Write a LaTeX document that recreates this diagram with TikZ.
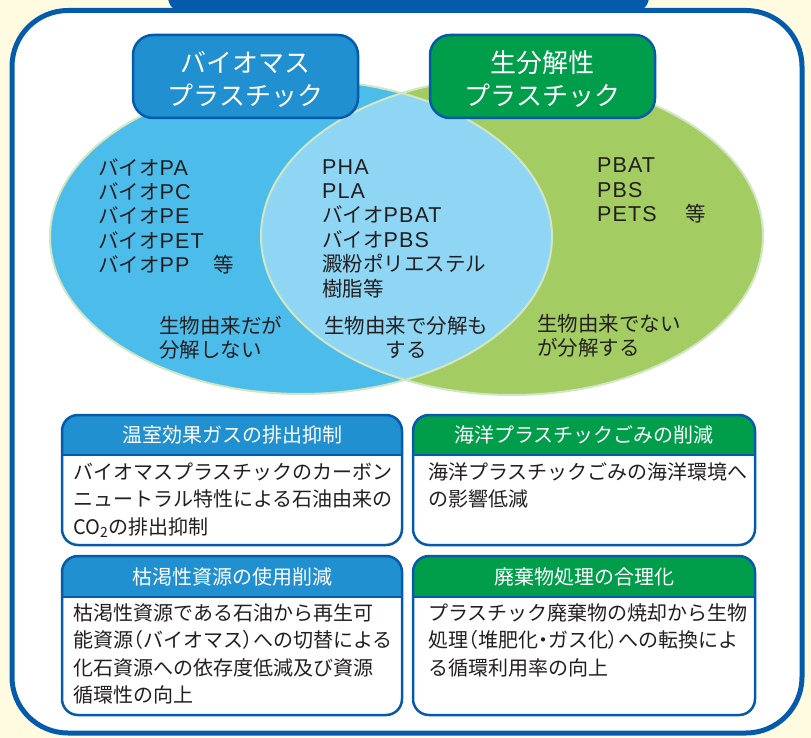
\documentclass[tikz,border=0pt]{standalone}
\usepackage{fontspec}
\setmainfont{Noto Sans CJK JP}
\newfontfamily\paltfont{Noto Sans CJK JP}[RawFeature=+palt]
\newfontfamily\latinfont{Liberation Sans}[LetterSpace=5,Scale=1.05]
\definecolor{bgcream}{RGB}{255,251,225}
\definecolor{frameblue}{RGB}{5,91,171}
\definecolor{bluefill}{RGB}{76,189,235}
\definecolor{lensfill}{RGB}{142,214,243}
\definecolor{greenfill}{RGB}{163,205,98}
\definecolor{hdrblue}{RGB}{32,144,208}
\definecolor{hdrgreen}{RGB}{0,158,75}
\definecolor{outlinegreen}{RGB}{210,230,195}
\definecolor{txt}{RGB}{35,31,32}
\tikzset{
  venntext/.style={anchor=base west, align=left, inner sep=0pt, text=txt, font=\fontsize{20.5}{24.4}\selectfont},
  headbox/.style={draw=frameblue, line width=2.5pt, rounded corners=20pt, minimum width=225pt, minimum height=83pt, inner sep=0pt},
  headtext/.style={text=white, align=center, font=\fontsize{26}{33}\selectfont, inner sep=0pt},
  boxline/.style={draw=frameblue, line width=2.5pt},
  boxtitle/.style={text=white, font=\fontsize{20}{24}\selectfont, inner sep=0pt},
  boxbody/.style={anchor=base west, align=left, inner sep=0pt, text=txt, font=\fontsize{20}{27.4}\selectfont},
  vennedge/.style={draw=outlinegreen, line width=2pt},
}
\newcommand\infobox[6]{%
  \begin{scope}
    \clip[rounded corners=16pt] (#1,#2) rectangle (#3,#4);
    \fill[white] (#1,#2) rectangle (#3,#4);
    \fill[#6] (#1,#2) rectangle (#3,#5);
  \end{scope}
  \draw[boxline] (#1,#5) -- (#3,#5);
  \draw[boxline, rounded corners=16pt] (#1,#2) rectangle (#3,#4);
}
\newcommand\pl[1]{{\paltfont #1}}
\newcommand\lt[1]{{\latinfont #1}}
\begin{document}
\begin{tikzpicture}[x=1pt,y=-1pt]
\useasboundingbox (0,0) rectangle (811,738);
\begin{scope}
\clip (0,0) rectangle (811,738);
\fill[bgcream] (0,0) rectangle (811,738);
% outer frame
\draw[frameblue, line width=5pt, fill=white, rounded corners=56pt] (12,10.5) rectangle (802,733);
% title tab (cut off at the top)
\fill[frameblue, rounded corners=15pt] (168,-40) rectangle (649,12);
% Venn diagram
\fill[bluefill] (301,237) ellipse [x radius=251, y radius=157];
\fill[greenfill] (512,236) ellipse [x radius=251, y radius=159];
\begin{scope}
  \clip (301,237) ellipse [x radius=251, y radius=157];
  \fill[lensfill] (512,236) ellipse [x radius=251, y radius=159];
\end{scope}
\draw[vennedge] (301,237) ellipse [x radius=251, y radius=157];
\draw[vennedge] (512,236) ellipse [x radius=251, y radius=159];
\end{scope}
% headers
\node[headbox, fill=hdrblue] (hbio) at (245.5,76.5) {};
\node[headbox, fill=hdrgreen] (hdeg) at (542.5,76.5) {};
\node[headtext] (hbiot) at ([yshift=-3pt]hbio.center) {バイオマス\\プラスチック};
\node[headtext] (hdegt) at ([yshift=-3pt]hdeg.center) {生分解性\\プラスチック};
% Venn texts (base anchor = baseline of the last line)
\node[venntext] (leftlist) at (98,272.6) {バイオ\lt{PA}\\バイオ\lt{PC}\\バイオ\lt{PE}\\バイオ\lt{PET}\\\makebox[115pt][l]{バイオ\lt{PP}}等};
\node[venntext] (midlist) at (322,296) {\lt{PHA}\\\lt{PLA}\\バイオ\lt{PBAT}\\バイオ\lt{PBS}\\澱粉ポリエステル\\樹脂等};
\node[venntext] (rightlist) at (597,221.8) {\lt{PBAT}\\\lt{PBS}\\\makebox[88pt][l]{\lt{PETS}}等};
\node[venntext] (leftnote) at (159,357.4) {生物由来だが\\分解しない};
\node[venntext, anchor=base, align=center] (midnote) at (406,357.4) {生物由来で分解も\\する};
\node[venntext] (rightnote) at (537,355.4) {生物由来でない\\が分解する};
% info boxes
\infobox{62}{415}{402}{545}{455}{hdrblue}
\infobox{413}{415}{755}{545}{455}{hdrgreen}
\infobox{62}{556}{402}{715}{597}{hdrblue}
\infobox{413}{556}{755}{715}{597}{hdrgreen}
\node[boxtitle] (t1) at (232,435) {温室効果ガスの排出抑制};
\node[boxtitle] (t2) at (584,435) {海洋プラスチックごみの削減};
\node[boxtitle] (t3) at (232,577) {枯渇性資源の使用削減};
\node[boxtitle] (t4) at (584,577) {廃棄物処理の合理化};
\node[boxbody] (b1) at (73,534.3) {バイオマスプラスチックのカーボン\\ニュートラル特性による石油由来の\\CO\textsubscript{2}の排出抑制};
\node[boxbody] (b2) at (428,506.9) {海洋プラスチックごみの海洋環境へ\\の影響低減};
\node[boxbody] (b3) at (73,702.7) {枯渇性資源である石油から再生可\\能資源\pl{（}バイオマス\pl{）}への切替による\\化石資源への依存度低減及び資源\\循環性の向上};
\node[boxbody] (b4) at (428,675.3) {プラスチック廃棄物の焼却から生物\\処理\pl{（}堆肥化\pl{・}ガス化\pl{）}への転換によ\\る循環利用率の向上};
\end{tikzpicture}
\end{document}
